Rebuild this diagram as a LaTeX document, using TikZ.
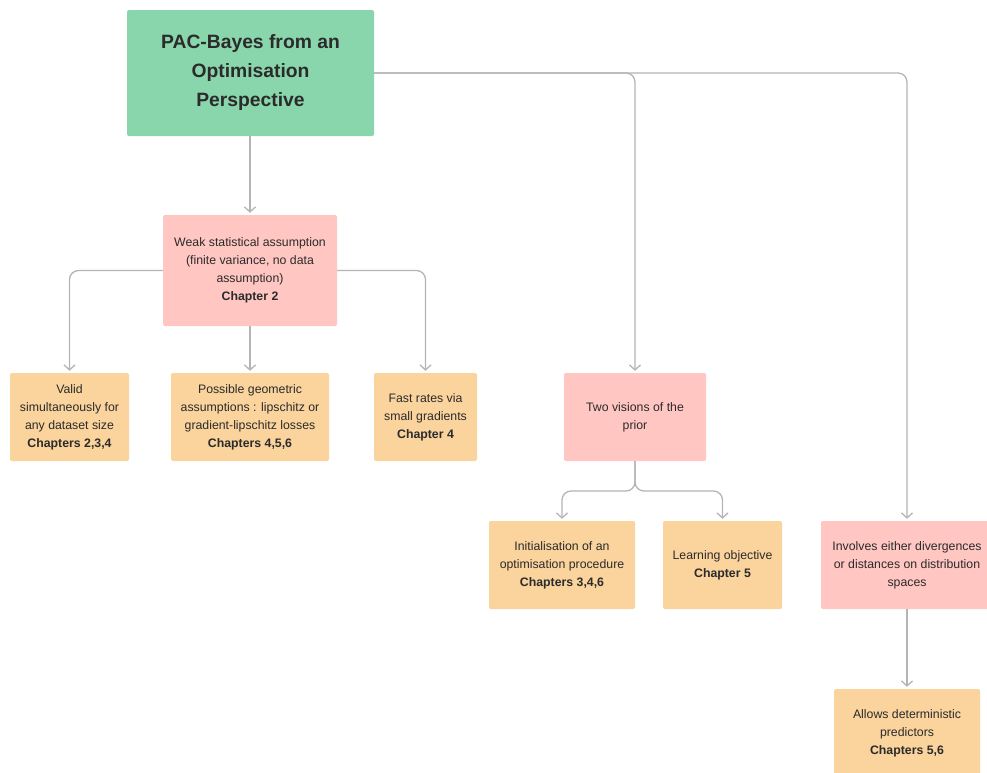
\documentclass[tikz,border=0pt]{standalone}
\usepackage{fontspec}
\setmainfont{Liberation Sans}
\usetikzlibrary{positioning}
\usetikzlibrary{calc}
\usetikzlibrary{arrows.meta}

\definecolor{rootgreen}{HTML}{8AD6AC}
\definecolor{claimpink}{HTML}{FFC6C2}
\definecolor{leaforange}{HTML}{FAD39D}
\definecolor{linkgray}{HTML}{B4B4B4}
\definecolor{inkgray}{HTML}{2B2B2B}

\begin{document}
\begin{tikzpicture}[
	x=1pt,
	y=-1pt,
	link/.style={-{Straight Barb[length=5pt,width=11pt]}, draw=linkgray, line width=1.3pt, rounded corners=9pt, shorten >=2pt},
	box/.style={rounded corners=2pt, align=center, text=inkgray, inner sep=0pt, font=\fontsize{12.3}{18}\selectfont},
	rootbox/.style={box, fill=rootgreen, minimum width=247pt, minimum height=126pt, font=\fontsize{19.3}{29}\selectfont\bfseries},
	claim/.style={box, fill=claimpink, minimum height=88pt},
	leaf/.style={box, fill=leaforange, minimum height=88pt},
]
\useasboundingbox (0,0) rectangle (987,772);

% root
\node[rootbox](pac) at (250.5,73) {PAC-Bayes from an\\Optimisation\\Perspective};

% second row
\node[claim, minimum width=174pt, minimum height=111pt](weak) at (250,270.5) {Weak statistical assumption\\(finite variance, no data\\assumption)\\\textbf{Chapter 2}};
\node[claim, minimum width=142pt](prior) at (635,417) {Two visions of the\\prior};
\node[claim, minimum width=172pt](dist) at (907,565) {Involves either divergences\\or distances on distribution\\spaces};

% leaves
\node[leaf, minimum width=119pt](valid) at (69.5,417) {Valid\\simultaneously for\\any dataset size\\\textbf{Chapters 2,3,4}};
\node[leaf, minimum width=158pt](geom) at (250,417) {Possible geometric\\assumptions : lipschitz or\\gradient-lipschitz losses\\\textbf{Chapters 4,5,6}};
\node[leaf, minimum width=103pt](fast) at (425.5,417) {Fast rates via\\small gradients\\\textbf{Chapter 4}};
\node[leaf, minimum width=146pt](init) at (562,565) {Initialisation of an\\optimisation procedure\\\textbf{Chapters 3,4,6}};
\node[leaf, minimum width=119pt](learn) at (722.5,565) {Learning objective\\\textbf{Chapter 5}};
\node[leaf, minimum width=146pt](determ) at (907,733) {Allows deterministic\\predictors\\\textbf{Chapters 5,6}};

% links from the root
\draw[link] (weak.north|-pac.south) -- (weak.north);
\draw[link] (pac.east) -| (dist.north);
\draw[link] (pac.east) -| (prior.north);

% links below weak
\draw[link] (weak.west) -| (valid.north);
\draw[link] (weak.south) -- (geom.north);
\draw[link] (weak.east) -| (fast.north);

% split below the prior
\coordinate (split) at ($(prior.south)!0.5!(prior.south|-init.north)$);
\draw[link] (prior.south) -- (split) -| (init.north);
\draw[link] (prior.south) -- (split) -| (learn.north);

\draw[link] (dist.south) -- (determ.north);
\end{tikzpicture}
\end{document}
